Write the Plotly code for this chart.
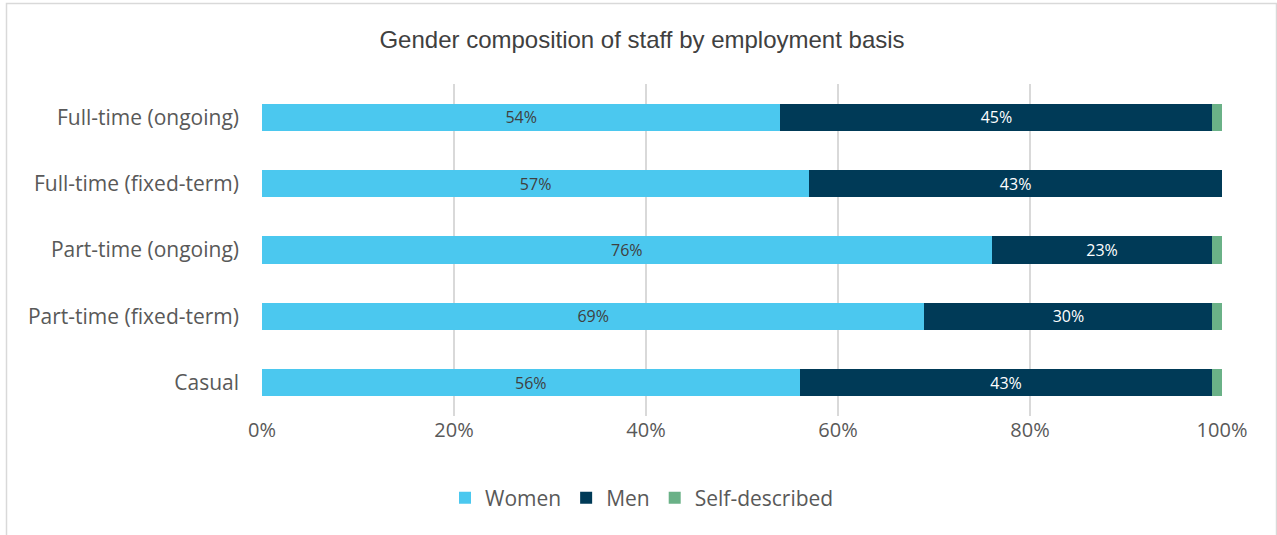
import plotly.graph_objects as go

categories = ["Full-time (ongoing)", "Full-time (fixed-term)", "Part-time (ongoing)",
              "Part-time (fixed-term)", "Casual"]
women = [54, 57, 76, 69, 56]
men = [45, 43, 23, 30, 43]
self_described = [1, 0, 1, 1, 1]
x_ticks = [0, 20, 40, 60, 80, 100]
x_tick_labels = ["0%", "20%", "40%", "60%", "80%", "100%"]

W, H = 1277, 535
L, R, T, B = 262, 55, 84, 119

label_font = dict(family="Open Sans, Lato, sans-serif", size=16)

fig = go.Figure()
fig.add_trace(go.Bar(
    y=categories, x=women, name="Women", orientation="h",
    marker=dict(color="#4BC8EF", line=dict(width=0)),
    text=[f"{v}%" for v in women], textposition="inside", insidetextanchor="middle",
    constraintext="none",
    textfont=dict(color="#404040", **label_font), hoverinfo="x+name",
))
fig.add_trace(go.Bar(
    y=categories, x=men, name="Men", orientation="h",
    marker=dict(color="#003A57", line=dict(width=0)),
    text=[f"{v}%" for v in men], textposition="inside", insidetextanchor="middle",
    constraintext="none",
    textfont=dict(color="#FFFFFF", **label_font), hoverinfo="x+name",
))
fig.add_trace(go.Bar(
    y=categories, x=self_described, name="Self-described", orientation="h",
    marker=dict(color="#6AB187", line=dict(width=0)),
    hoverinfo="x+name",
))

ph = H - T - B
pw = W - L - R
def px_x(p):
    return (p - L) / pw
def px_y(p):
    return (H - B - p) / ph

fig.add_shape(type="rect", xref="paper", yref="paper",
              x0=px_x(6.5), x1=px_x(1276.5), y0=px_y(540), y1=px_y(3.5),
              line=dict(color="#D9D9D9", width=1.5), fillcolor="rgba(0,0,0,0)", layer="below")

fig.update_layout(
    width=W, height=H,
    margin=dict(l=L, r=R, t=T, b=B),
    barmode="stack", bargap=0.59,
    paper_bgcolor="white", plot_bgcolor="white",
    title=dict(text="Gender composition of staff by employment basis",
               x=642 / W, xanchor="center", y=1 - 40 / H, yanchor="middle",
               font=dict(family="Liberation Sans, Arial, sans-serif", size=24, color="#404040")),
    xaxis=dict(range=[0, 100], tickvals=x_ticks, ticktext=x_tick_labels,
               showgrid=True, gridcolor="#D9D9D9", gridwidth=1.5, zeroline=False,
               showline=False, ticks="", ticklen=0,
               tickfont=dict(family="Open Sans, Lato, sans-serif", size=20, color="#595959")),
    yaxis=dict(categoryorder="array", categoryarray=categories, autorange="reversed",
               showgrid=False, zeroline=False, showline=False, ticks="",
               ticklabelstandoff=22,
               tickfont=dict(family="Open Sans, Lato, sans-serif", size=21, color="#595959")),
    legend=dict(orientation="h", x=(642 - (L + pw / 2)) / pw + 0.5,
                xanchor="center", y=px_y(498), yanchor="middle",
                font=dict(family="Open Sans, Lato, sans-serif", size=21, color="#595959"),
                itemwidth=30, traceorder="normal"),
)

fig.write_html("out.html")
